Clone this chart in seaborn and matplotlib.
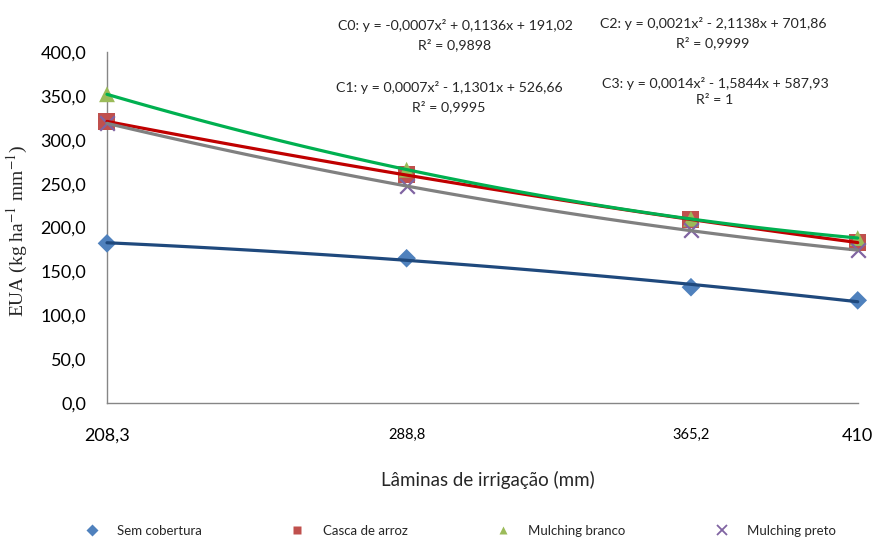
import numpy as np
import pandas as pd
import matplotlib
matplotlib.use('Agg')
import matplotlib.pyplot as plt
from matplotlib.lines import Line2D
import seaborn as sns

# ============================
# Data
# ============================
laminas = [208.3, 288.8, 365.2, 410.0]
tick_labels = ['208,3', '288,8', '365,2', '410']

sem_cobertura = [182.0, 165.0, 132.0, 117.0]
casca_arroz = [321.0, 260.0, 209.0, 183.0]
mulching_branco = [352.0, 266.0, 210.0, 188.0]
mulching_preto = [319.0, 247.0, 197.0, 174.0]

names = ['Sem cobertura', 'Casca de arroz', 'Mulching branco', 'Mulching preto']
equations = [
    'C0: y = -0,0007x² + 0,1136x + 191,02\nR² = 0,9898',
    'C1: y = 0,0007x² - 1,1301x + 526,66\nR² = 0,9995',
    'C2: y = 0,0021x² - 2,1138x + 701,86\nR² = 0,9999',
    'C3: y = 0,0014x² - 1,5844x + 587,93\nR² = 1',
]

df = pd.DataFrame({'x': laminas * 4,
                   'y': sem_cobertura + casca_arroz + mulching_branco + mulching_preto,
                   'trat': np.repeat(names, 4)})

marker_colors = ['#4f81bd', '#c0504d', '#9bbb59', '#8064a2']
line_colors = ['#1f497d', '#c00000', '#00b050', '#808080']
markers = ['D', 's', '^', 'x']
sizes = [90, 150, 130, 110]

sns.set_style('white')
plt.rcParams['font.family'] = ['Lato', 'DejaVu Sans']
plt.rcParams['mathtext.fontset'] = 'stix'

fig = plt.figure(figsize=(8.77, 5.38), dpi=100)
ax = fig.add_axes([0.122, 0.251, 0.856, 0.652])

for i, name in enumerate(names):
    sub = df[df['trat'] == name]
    if markers[i] == 'x':
        sns.scatterplot(x=sub['x'], y=sub['y'], marker='x', color=marker_colors[i],
                        s=sizes[i], linewidth=1.6, ax=ax, clip_on=False, zorder=3)
    else:
        sns.scatterplot(x=sub['x'], y=sub['y'], marker=markers[i], color=marker_colors[i],
                        s=sizes[i], edgecolor='none', ax=ax, clip_on=False, zorder=3)

# polynomial trend lines (order 2), drawn over the markers like in Excel
for i, name in enumerate(names):
    sub = df[df['trat'] == name]
    sns.regplot(x=sub['x'], y=sub['y'], order=2, ci=None, scatter=False, truncate=True,
                line_kws={'color': line_colors[i], 'lw': 2.3, 'zorder': 4, 'clip_on': False},
                ax=ax)

ax.set_xlim(208.3, 410)
ax.set_ylim(0, 400)
ax.set_xticks(laminas)
ax.set_xticklabels(tick_labels)
for k, lbl in enumerate(ax.get_xticklabels()):
    lbl.set_fontsize(13 if k in (0, len(laminas) - 1) else 10.5)
yt = np.arange(0, 401, 50)
ax.set_yticks(yt)
ax.set_yticklabels([f'{v:.1f}'.replace('.', ',') for v in yt])
ax.tick_params(axis='both', length=0, colors='#000000')
ax.tick_params(axis='y', labelsize=13, pad=15)
ax.tick_params(axis='x', pad=18)

for side in ['top', 'right']:
    ax.spines[side].set_visible(False)
for side in ['left', 'bottom']:
    ax.spines[side].set_color('#868686')
    ax.spines[side].set_linewidth(1.0)

ax.set_xlabel('Lâminas de irrigação (mm)', fontsize=13.5)
ax.xaxis.set_label_coords(0.507, -0.195)
ax.set_ylabel('EUA (kg ha$^{-1}$ mm$^{-1}$)', fontsize=14, family='Liberation Serif')
ax.yaxis.set_label_coords(-0.1025, 0.49)

# equations, one text per line
eq_pos = [(455, 25, 45), (449, 87, 107), (713, 23, 43), (715, 83, 100)]
for eq, (cx, y1, y2) in zip(equations, eq_pos):
    l1, l2 = eq.split('\n')
    fig.text(cx / 877, 1 - y1 / 538, l1, ha='center', va='center', fontsize=10.2)
    fig.text(cx / 877, 1 - y2 / 538, l2, ha='center', va='center', fontsize=10.2)

handles = []
for i, name in enumerate(names):
    if markers[i] == 'x':
        h = Line2D([], [], marker='x', color=marker_colors[i], ls='none', ms=6.5, mew=1.3)
    else:
        h = Line2D([], [], marker=markers[i], color=marker_colors[i], ls='none', ms=6,
                   mec='none')
    handles.append(h)
fig.legend(handles, names, loc='center left', bbox_to_anchor=(71.8 / 877, 1 - 531 / 538),
           ncol=4, frameon=False, fontsize=9.5, borderpad=0, columnspacing=6.27,
           handletextpad=0.9, handlelength=2.0)

fig.savefig('out.png', dpi=100)
